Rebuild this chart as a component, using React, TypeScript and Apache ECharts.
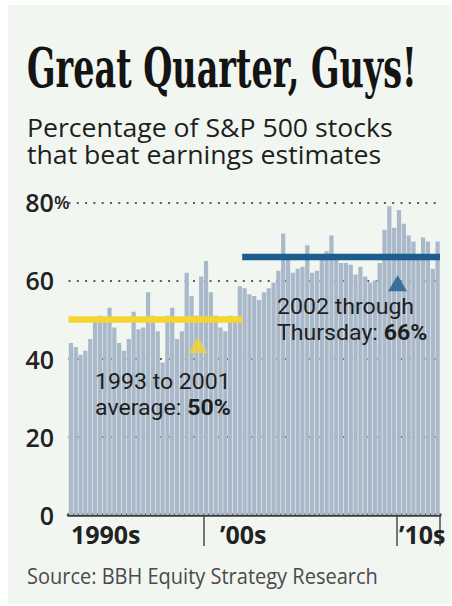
import React, { useEffect, useRef } from "react";
import * as echarts from "echarts";

// Percentage of S&P 500 stocks beating estimates, quarterly from 1993 Q1
const beatPct: number[] = [
  44, 43, 41, 42, 45, 50, 51, 50.5, 53, 48, 44, 42, 45, 52, 47.5, 48, 57, 51, 47, 39,
  51, 53, 45, 47, 62, 56, 51, 61, 65, 57, 51, 48, 47, 51, 50, 58.5,
  58, 56.5, 56, 55, 57, 58, 59.5, 62.5, 72, 66, 62, 63, 63.5, 69, 62, 62.5, 66.5, 67.5, 71.5, 66,
  64.5, 64.5, 64, 61.5, 63.5, 61, 59.5, 60, 64.5, 73, 79, 73.5, 78, 74.5, 71.5, 70, 66.5, 71, 70, 63, 70,
];
const firstYear = 1993;
const quarters: string[] = beatPct.map(
  (_, i) => `${firstYear + Math.floor(i / 4)} Q${(i % 4) + 1}`
);

const decadeLabelIndex: number[] = [0, 28, 68];
const decadeLabels: string[] = ["1990s", "\u201900s", "\u201910s"];
const decadeTickIndex: number[] = [28, 68];

const yTicks: number[] = [0, 20, 40, 60, 80];

// averages: [startQuarterIndex, endQuarterIndex, value]
const avgEarly: number[] = [0, 36, 50];
const avgLate: number[] = [36, 77, 66];
// triangle markers [x (quarter position), y (%)]
const markerEarly: number[] = [26.8, 43.5];
const markerLate: number[] = [68.2, 59.3];

const titleText = "Great Quarter, Guys!";
const subtitleLines: string[] = [
  "Percentage of S&P 500 stocks",
  "that beat earnings estimates",
];
const noteEarly = "1993 to 2001\naverage: {b|50%}";
const noteLate = "2002 through\nThursday: {b|66%}";
const sourceText = "Source: BBH Equity Strategy Research";

function textWidth(text: string, font: string): number {
  const ctx = document.createElement("canvas").getContext("2d");
  if (!ctx) return 1;
  ctx.font = font;
  return ctx.measureText(text).width || 1;
}

const SANS = "'Open Sans', 'Noto Sans', sans-serif";
const NOTE = "Roboto, 'Open Sans', sans-serif";
const SERIF = "'DejaVu Serif Condensed', 'DejaVu Serif', serif";
const TXT = "#1e1e1e";

export default function App() {
  const ref = useRef<HTMLDivElement>(null);

  useEffect(() => {
    if (!ref.current) return;
    const chart = echarts.init(ref.current, undefined, { renderer: "svg" });

    const titleSize = 55;
    const titleScale = 390 / textWidth(titleText, `bold ${titleSize}px ${SERIF}`);
    const subSize = 26;
    const subScale = 366 / textWidth(subtitleLines[0], `normal ${subSize}px ${SANS}`);
    const srcSize = 21;
    const srcScale = 351 / textWidth(sourceText, `normal ${srcSize}px ${SANS}`);

    const note = (text: string, x: number, y: number) => ({
      type: "text",
      x,
      y,
      z: 50,
      scaleX: 1.05,
      style: {
        text,
        fill: TXT,
        fontFamily: NOTE,
        fontSize: 22,
        lineHeight: 26,
        verticalAlign: "top",
        align: "left",
        rich: {
          b: {
            fontWeight: "bold",
            fontSize: 22,
            lineHeight: 26,
            fontFamily: NOTE,
            fill: TXT,
          },
        },
      },
    });

    const option: any = {
      animation: false,
      backgroundColor: "transparent",
      grid: { left: 68.5, right: 12, top: 202.3, bottom: 91 },
      xAxis: [
        {
          type: "category",
          data: quarters,
          boundaryGap: true,
          axisLine: { lineStyle: { color: "#3a3a3a", width: 3.5 } },
          axisTick: {
            show: true,
            alignWithLabel: false,
            interval: (i: number) => decadeTickIndex.includes(i),
            length: 31,
            lineStyle: { color: "#4a4a4a", width: 1.5 },
          },
          axisLabel: {
            interval: (i: number) => decadeLabelIndex.includes(i),
            formatter: (_v: string, i: number) => {
              const k = decadeLabelIndex.indexOf(i);
              if (k < 0) return "";
              return k === 1 ? `{p|${decadeLabels[k]}}` : decadeLabels[k];
            },
            align: "left",
            margin: 6,
            fontSize: 25,
            fontWeight: "bold",
            fontFamily: SANS,
            color: "#222",
            rich: { p: { padding: [0, 0, 0, 14] } },
          },
        },
        { type: "value", min: 0, max: quarters.length, show: false },
      ],
      yAxis: {
        type: "value",
        min: 0,
        max: 80,
        interval: 20,
        axisLine: { show: false },
        axisTick: { show: false },
        splitLine: {
          show: true,
          lineStyle: { color: "#5a5a5a", width: 2, type: [2, 6.3] },
        },
        axisLabel: {
          align: "left",
          margin: 43.5,
          fontSize: 25,
          fontWeight: 600,
          fontFamily: SANS,
          color: "#222",
          formatter: (v: number) =>
            v === yTicks[yTicks.length - 1] ? `{n|${v}}{p|%}` : `{n|${v}}`,
          rich: {
            n: { width: 29, align: "right" },
            p: { fontSize: 18, fontWeight: 600 },
          },
        },
      },
      series: [
        {
          type: "bar",
          data: beatPct,
          barCategoryGap: "12%",
          itemStyle: { color: "#a9b9ca" },
          z: 2,
        },
        {
          type: "line",
          xAxisIndex: 1,
          data: [
            [avgEarly[0], avgEarly[2]],
            [avgEarly[1], avgEarly[2]],
          ],
          symbol: "none",
          lineStyle: { color: "#f5d530", width: 6.5, cap: "butt" },
          z: 5,
        },
        {
          type: "line",
          xAxisIndex: 1,
          data: [
            [avgLate[0], avgLate[2]],
            [avgLate[1], avgLate[2]],
          ],
          symbol: "none",
          lineStyle: { color: "#1c5d8d", width: 6.5, cap: "butt" },
          z: 5,
        },
        {
          type: "scatter",
          xAxisIndex: 1,
          symbol: "triangle",
          symbolSize: [19, 16],
          data: [
            { value: markerEarly, itemStyle: { color: "#f5d530" } },
            { value: markerLate, itemStyle: { color: "#1c5d8d" } },
          ],
          z: 6,
        },
      ],
      graphic: [
        {
          type: "rect",
          z: -100,
          silent: true,
          shape: { x: 8, y: 5, width: 443, height: 599 },
          style: { fill: "#f2f6f1" },
        },
        {
          type: "text",
          x: 27,
          y: 68,
          scaleX: titleScale,
          style: {
            text: titleText,
            fill: "#141414",
            fontFamily: SERIF,
            fontWeight: "bold",
            fontSize: titleSize,
            verticalAlign: "middle",
            align: "left",
          },
        },
        {
          type: "text",
          x: 27,
          y: 127,
          scaleX: subScale,
          style: {
            text: subtitleLines[0],
            fill: TXT,
            fontFamily: SANS,
            fontSize: subSize,
            verticalAlign: "middle",
            align: "left",
          },
        },
        {
          type: "text",
          x: 27,
          y: 154,
          scaleX: subScale,
          style: {
            text: subtitleLines[1],
            fill: TXT,
            fontFamily: SANS,
            fontSize: subSize,
            verticalAlign: "middle",
            align: "left",
          },
        },
        note(noteEarly, 95, 369),
        note(noteLate, 277, 294),
        {
          type: "text",
          x: 27,
          y: 576,
          scaleX: srcScale,
          style: {
            text: sourceText,
            fill: "#4a4a4a",
            fontFamily: SANS,
            fontSize: srcSize,
            verticalAlign: "middle",
            align: "left",
          },
        },
      ],
    };

    chart.setOption(option);
    return () => chart.dispose();
  }, []);

  return (
    <div
      style={{
        position: "absolute",
        left: 0,
        top: 0,
        width: 452,
        height: 606,
        background: "#ffffff",
      }}
    >
      <div ref={ref} style={{ width: 452, height: 606 }} />
    </div>
  );
}
